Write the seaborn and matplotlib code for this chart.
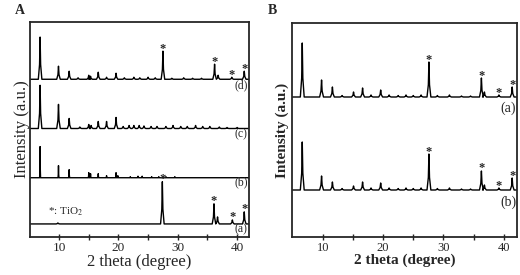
import numpy as np
import pandas as pd
import seaborn as sn
import matplotlib.pyplot as plt

# ---- panel A : peak positions (2theta) and heights above each baseline ----
a_d_pos = [6.8, 9.9, 11.7, 13.2, 15.0, 15.3, 16.6, 18.0, 19.6, 21.0, 22.6, 23.6, 25.0, 26.2,
           27.5, 29.0, 31.0, 32.5, 34.0, 36.2, 36.8, 39.1, 41.2]
a_d_h = [42, 13, 8, 1.5, 4, 3, 7, 2, 6, 1.5, 2, 1.5, 2, 1.5,
         28, 1, 1.5, 1, 1, 15, 4, 2, 8]
a_c_pos = [6.8, 9.9, 11.7, 13.5, 15.0, 15.4, 16.6, 18.0, 19.6, 20.8, 21.8, 22.6, 23.5, 24.3,
           25.5, 26.5, 28.0, 29.2, 30.5, 31.6, 33.0, 34.2, 35.4, 37.0, 38.3, 40.0]
a_c_h = [43, 24, 10, 1.5, 4, 3, 7, 7, 11, 2, 3, 3, 3, 2.5,
         2, 2, 2, 3, 2, 2, 3, 2, 2, 1.5, 1, 1]
a_b_pos = [6.8, 9.9, 11.7, 15.0, 15.3, 16.6, 18.0, 19.6, 19.9, 22.0, 23.3, 24.0, 25.6,
           26.8, 28.0, 29.5]
a_b_h = [31, 12, 8, 5, 4, 4, 2, 5, 2, 1, 1.5, 1.5, 1, 1, 1, 1]
a_a_pos = [9.8, 27.4, 36.1, 36.7, 39.2, 41.2]
a_a_h = [1, 42, 20, 7, 4, 12]

a_base = {'d': 157, 'c': 108, 'b': 59, 'a': 13}
a_stars_d = [27.5, 36.2, 39.1, 41.2]
a_stars_a = [27.4, 36.1, 39.2, 41.2]

# ---- panel B ----
b_a_pos = [6.6, 9.8, 11.6, 13.2, 15.1, 16.6, 18.0, 19.6, 21.0, 22.5, 23.8, 25.0, 26.3,
           27.6, 29.0, 31.0, 33.0, 34.5, 36.3, 36.8, 39.2, 41.4]
b_a_h = [54, 17, 10, 1.5, 5, 9, 2, 7, 2, 1.5, 2, 1.5, 2,
         35, 1.5, 2, 1, 1, 19, 5, 2, 10]
b_b_pos = [6.6, 9.8, 11.6, 13.2, 15.1, 16.6, 18.0, 19.6, 21.0, 22.5, 23.8, 25.0, 26.3,
           27.6, 29.0, 31.0, 33.0, 34.5, 36.3, 36.8, 39.2, 41.4]
b_b_h = [48, 14, 8, 1.5, 4, 8, 2, 7, 2, 1.5, 2, 1.5, 2,
         36, 1.5, 2, 1, 1, 19, 5, 2, 12]
b_base = {'a': 140, 'b': 47}
b_stars = [27.6, 36.3, 39.2, 41.4]

A_XLIM = (5.1, 42.0)
B_XLIM = (4.9, 42.2)


def trace(pos, h, base, xlim, w):
    # baseline - peak - baseline for each reflection
    xs, ys = [xlim[0]], [base]
    for p, hh in zip(pos, h):
        xs += [p - w, p - w * 0.3, p, p + w * 0.3, p + w]
        ys += [base, base + hh * 0.35, base + hh, base + hh * 0.35, base]
    xs.append(xlim[1])
    ys.append(base)
    return pd.DataFrame({'x': xs, 'y': ys})


def draw(ax, pos, h, base, xlim, w):
    df = trace(pos, h, base, xlim, w)
    sn.lineplot(data=df, x='x', y='y', ax=ax, color='k', lw=1.0, estimator=None, sort=False)


def stars(ax, xs, pos, h, base, fs=9):
    for s in xs:
        top = base + h[int(np.argmin(np.abs(np.array(pos) - s)))]
        ax.text(s, top - 3.5, '*', ha='center', va='bottom', fontsize=fs, fontweight='bold')


sn.set_style('ticks')
plt.rcParams['font.family'] = ['Liberation Serif', 'DejaVu Serif']
plt.rcParams['mathtext.fontset'] = 'stix'

fig = plt.figure(figsize=(5.2, 2.75), dpi=100)
axA = fig.add_axes([30 / 520, 38 / 275, 219 / 520, 215 / 275])
axB = fig.add_axes([292 / 520, 38 / 275, 225 / 520, 214 / 275])

draw(axA, a_d_pos, a_d_h, a_base['d'], A_XLIM, 0.3)
draw(axA, a_c_pos, a_c_h, a_base['c'], A_XLIM, 0.3)
draw(axA, a_b_pos, a_b_h, a_base['b'], A_XLIM, 0.08)
draw(axA, a_a_pos, a_a_h, a_base['a'], A_XLIM, 0.3)
stars(axA, a_stars_d, a_d_pos, a_d_h, a_base['d'])
stars(axA, a_stars_a, a_a_pos, a_a_h, a_base['a'])
for lab, yy in zip(['(d)', '(c)', '(b)', '(a)'], [151, 102, 54, 8]):
    axA.text(41.8, yy, lab, ha='right', va='center', fontsize=8.5)
axA.text(8.1, 25, '*: TiO$_2$', ha='left', va='center', fontsize=8)

draw(axB, b_a_pos, b_a_h, b_base['a'], B_XLIM, 0.32)
draw(axB, b_b_pos, b_b_h, b_base['b'], B_XLIM, 0.32)
stars(axB, b_stars, b_a_pos, b_a_h, b_base['a'])
stars(axB, b_stars, b_b_pos, b_b_h, b_base['b'])
axB.text(40.7, 129, '(a)', ha='center', va='center', fontsize=10)
axB.text(40.7, 35, '(b)', ha='center', va='center', fontsize=10)

for ax, xl in [(axA, A_XLIM), (axB, B_XLIM)]:
    ax.set_xlim(*xl)
    ax.set_ylim(0, 214)
    ax.set_yticks([])
    ax.set_xticks([10, 20, 30, 40])
    ax.set_xticks([15, 25, 35], minor=True)
    ax.tick_params(axis='x', which='major', direction='inout', length=5, width=1, pad=1)
    ax.tick_params(axis='x', which='minor', direction='inout', length=4, width=1)
    for sp in ax.spines.values():
        sp.set_visible(True)
        sp.set_linewidth(1.3)

axA.tick_params(axis='x', labelsize=9.5)
axB.tick_params(axis='x', labelsize=9)
axA.set_xlabel('2 theta (degree)', fontsize=12, labelpad=0)
axA.set_ylabel('Intensity (a.u.)', fontsize=12, labelpad=0)
axB.set_xlabel('2 theta (degree)', fontsize=11, fontweight='bold', labelpad=0)
axB.set_ylabel('Intensity (a.u.)', fontsize=11, fontweight='bold', labelpad=2)

fig.text(15 / 520, 1 - 10 / 275, 'A', fontsize=10, fontweight='bold', va='center')
fig.text(268 / 520, 1 - 10 / 275, 'B', fontsize=10, fontweight='bold', va='center')

plt.savefig('out.png', dpi=100)
